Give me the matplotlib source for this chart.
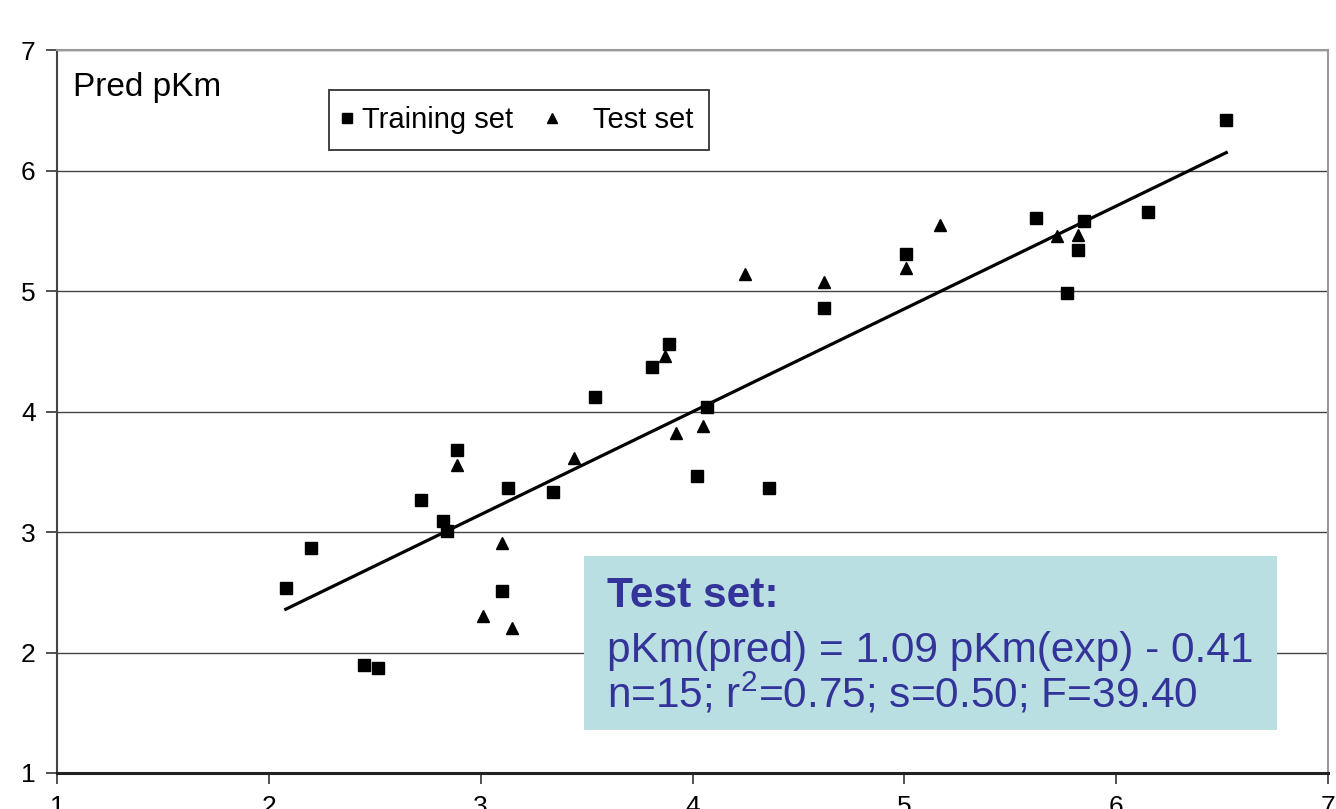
import numpy as np
import matplotlib
matplotlib.use("Agg")
from matplotlib import pyplot as plt
from matplotlib.patches import Rectangle
from matplotlib.legend_handler import HandlerLine2D

plt.rcParams['font.family'] = ['Liberation Sans', 'DejaVu Sans']

## training set (exp pKm, pred pKm)
train_x = [2.08, 2.20, 2.45, 2.515, 2.72, 2.82, 2.84, 2.89, 3.10, 3.13, 3.34, 3.54, 3.81,
           3.89, 4.02, 4.07, 4.36, 4.62, 5.01, 5.62, 5.77, 5.82, 5.85, 6.15, 6.52]
train_y = [2.54, 2.87, 1.90, 1.87, 3.27, 3.09, 3.01, 3.68, 2.51, 3.37, 3.33, 4.12, 4.37,
           4.56, 3.47, 4.04, 3.37, 4.86, 5.31, 5.61, 4.99, 5.34, 5.58, 5.66, 6.42]

## test set
test_x = [2.89, 3.01, 3.10, 3.15, 3.44, 3.87, 3.92, 4.05, 4.25, 4.62, 5.01, 5.17, 5.72, 5.82]
test_y = [3.56, 2.30, 2.91, 2.20, 3.62, 4.46, 3.82, 3.88, 5.14, 5.08, 5.19, 5.55, 5.46, 5.47]

## fitted line
slope = 0.854
intercept = 0.584

ticks = [1, 2, 3, 4, 5, 6, 7]
box_lines = ['Test set:',
             'pKm(pred) = 1.09 pKm(exp) - 0.41',
             r'n=15; r$\mathregular{^2}$=0.75; s=0.50; F=39.40']


# legend handler that puts the single marker at a chosen fraction of the handle
class ShiftedMarker(HandlerLine2D):
    def __init__(self, frac, **kw):
        super().__init__(**kw)
        self.frac = frac

    def get_xdata(self, legend, xdescent, ydescent, width, height, fontsize):
        c = -xdescent + self.frac * width
        return np.array([c - 0.5, c + 0.5]), np.array([c])


fig = plt.figure(figsize=(13.36, 8.09), dpi=100)
ax = fig.add_axes([0.0427, 0.0445, 0.9513, 0.8931])

ax.set_xlim(1, 7)
ax.set_ylim(1, 7)
ax.set_xticks(ticks)
ax.set_yticks(ticks)
ax.tick_params(axis='both', labelsize=19, length=8, width=1.2, color='#333333', pad=8)
ax.tick_params(axis='y', pad=7.5)

# gridlines
ax.grid(axis='y', color='#444444', linewidth=1.0)
ax.set_axisbelow(True)

for s in ['top', 'right']:
    ax.spines[s].set_color('#999999')
    ax.spines[s].set_linewidth(1.5)
ax.spines['left'].set_color('#444444')
ax.spines['left'].set_linewidth(1.5)
ax.spines['bottom'].set_color('#222222')
ax.spines['bottom'].set_linewidth(2.2)

# regression line across training range
lx = np.array([min(train_x), max(train_x)])
ax.plot(lx, slope * lx + intercept, color='black', linewidth=2.3, zorder=3)

sq, = ax.plot(train_x, train_y, 's', color='black', markersize=8, label='Training set', zorder=4)
tr, = ax.plot(test_x, test_y, '^', color='black', markersize=8.5, label='Test set', zorder=4)

leg = ax.legend(handles=[sq, tr], loc='upper left', bbox_to_anchor=(0.214, 0.945), ncol=2,
                fontsize=21, frameon=True, fancybox=False, edgecolor='black',
                markerscale=0.85, handlelength=0.58, handletextpad=0.0,
                columnspacing=2.16, borderpad=0.55, borderaxespad=0,
                handler_map={sq: ShiftedMarker(0.12), tr: ShiftedMarker(-1.42)})
leg.get_frame().set_linewidth(1.3)

ax.text(0.0126, 0.949, 'Pred pKm', transform=ax.transAxes, fontsize=24,
        ha='left', va='center')

# stats box
ax.add_patch(Rectangle((3.49, 1.36), 3.27, 1.44, facecolor='#b9dfe3',
                       edgecolor='none', zorder=5))
ax.text(3.595, 2.47, box_lines[0], fontsize=30.5, fontweight='bold', color='#333399',
        va='center', ha='left', zorder=6)
ax.text(3.595, 2.01, box_lines[1], fontsize=30.5, color='#333399',
        va='center', ha='left', zorder=6)
ax.text(3.595, 1.655, box_lines[2], fontsize=30.5, color='#333399',
        va='center', ha='left', zorder=6)

plt.savefig('out.png', dpi=100)
